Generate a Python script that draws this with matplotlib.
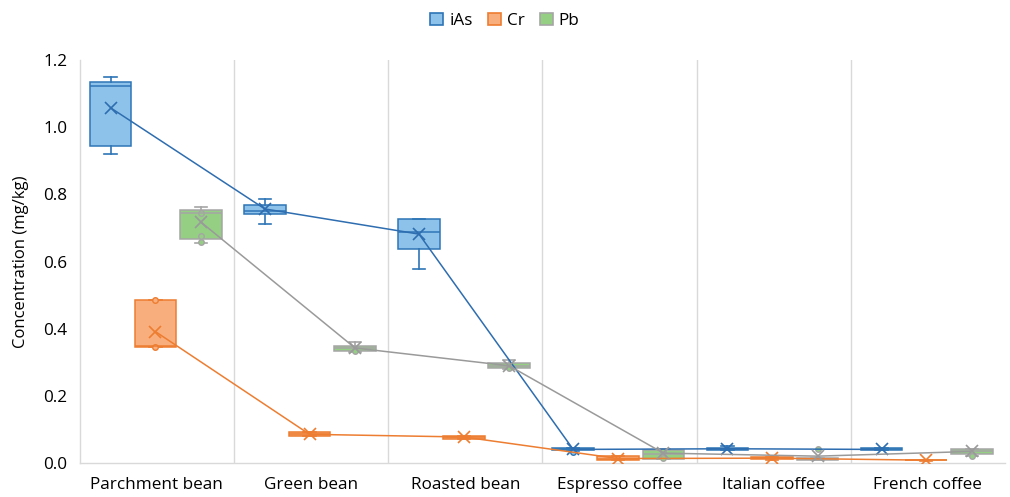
import matplotlib
matplotlib.use("Agg")
import matplotlib.pyplot as plt
from matplotlib.patches import Patch

plt.rcParams['font.family'] = ['Open Sans', 'DejaVu Sans']

categories = ["Parchment bean", "Green bean", "Roasted bean",
              "Espresso coffee", "Italian coffee", "French coffee"]
series = ["iAs", "Cr", "Pb"]

# box statistics per series: whisker low, Q1, median, Q3, whisker high, mean, inner points
iAs_whislo = [0.922, 0.713, 0.577, 0.036, 0.038, 0.038]
iAs_q1     = [0.944, 0.742, 0.639, 0.039, 0.040, 0.039]
iAs_med    = [1.122, 0.752, 0.689, 0.042, 0.042, 0.041]
iAs_q3     = [1.135, 0.768, 0.728, 0.045, 0.045, 0.044]
iAs_whishi = [1.150, 0.788, 0.728, 0.046, 0.050, 0.045]
iAs_mean   = [1.058, 0.757, 0.682, 0.041, 0.043, 0.041]
iAs_points = [[], [], [], [0.032], [], []]

Cr_whislo = [0.345, 0.082, 0.073, 0.010, 0.011, 0.008]
Cr_q1     = [0.345, 0.082, 0.073, 0.011, 0.012, 0.009]
Cr_med    = [0.348, 0.086, 0.077, 0.014, 0.015, 0.010]
Cr_q3     = [0.487, 0.092, 0.082, 0.020, 0.019, 0.011]
Cr_whishi = [0.487, 0.092, 0.082, 0.020, 0.019, 0.011]
Cr_mean   = [0.392, 0.086, 0.078, 0.014, 0.015, 0.009]
Cr_points = [[0.345, 0.487], [], [], [], [], []]

Pb_whislo = [0.655, 0.332, 0.280, 0.012, 0.010, 0.020]
Pb_q1     = [0.668, 0.333, 0.282, 0.014, 0.011, 0.028]
Pb_med    = [0.745, 0.343, 0.290, 0.027, 0.013, 0.035]
Pb_q3     = [0.755, 0.350, 0.297, 0.040, 0.015, 0.041]
Pb_whishi = [0.762, 0.360, 0.306, 0.043, 0.016, 0.043]
Pb_mean   = [0.718, 0.343, 0.290, 0.030, 0.021, 0.035]
Pb_points = [[0.744, 0.676, 0.658], [0.335], [0.283], [0.015, 0.035], [0.043], [0.020]]

data = {
    "iAs": (iAs_whislo, iAs_q1, iAs_med, iAs_q3, iAs_whishi, iAs_mean, iAs_points),
    "Cr": (Cr_whislo, Cr_q1, Cr_med, Cr_q3, Cr_whishi, Cr_mean, Cr_points),
    "Pb": (Pb_whislo, Pb_q1, Pb_med, Pb_q3, Pb_whishi, Pb_mean, Pb_points),
}

fills = {"iAs": "#8DC3EA", "Cr": "#F9AE7D", "Pb": "#94CF84"}
edges = {"iAs": "#2E75B6", "Cr": "#ED7D31", "Pb": "#A5A5A5"}
meancol = {"iAs": "#2E6DB0", "Cr": "#ED7D31", "Pb": "#9A9A9A"}
offsets = {"iAs": -0.30, "Cr": -0.01, "Pb": 0.285}

fig = plt.figure(figsize=(10.1, 4.97), dpi=100)
ax = fig.add_axes([0.079, 0.068, 0.916, 0.811])

for s in series:
    wl, q1, md, q3, wh, mn, pts = data[s]
    stats = []
    for i in range(len(categories)):
        stats.append(dict(whislo=wl[i], q1=q1[i], med=md[i], q3=q3[i],
                          whishi=wh[i], mean=mn[i], fliers=pts[i]))
    pos = [i + offsets[s] for i in range(len(categories))]
    ax.bxp(stats, positions=pos, widths=0.27, capwidths=0.08,
           patch_artist=True, showmeans=False, showfliers=True,
           boxprops=dict(facecolor=fills[s], edgecolor=edges[s], linewidth=1.1),
           medianprops=dict(color=edges[s], linewidth=1.1),
           whiskerprops=dict(color=edges[s], linewidth=1.2),
           capprops=dict(color=edges[s], linewidth=1.2),
           flierprops=dict(marker='o', markersize=4, markerfacecolor=fills[s],
                           markeredgecolor=edges[s], markeredgewidth=1.0),
           manage_ticks=False, zorder=3)
    ax.plot(pos, mn, color=meancol[s], linewidth=1.1, marker='x',
            markersize=8, markeredgewidth=1.2, zorder=4)

ax.set_xlim(-0.5, len(categories) - 0.5)
ax.set_ylim(0, 1.2)
ax.set_yticks([0, 0.2, 0.4, 0.6, 0.8, 1.0, 1.2])
ax.set_yticklabels(["0.0", "0.2", "0.4", "0.6", "0.8", "1.0", "1.2"])
ax.set_xticks(range(len(categories)))
ax.set_xticklabels(categories)
ax.tick_params(axis='both', length=0, labelsize=12.3, colors='#000000')
ax.tick_params(axis='y', pad=9)
ax.tick_params(axis='x', pad=10)
ax.set_ylabel("Concentration (mg/kg)", fontsize=12, labelpad=10)

for x in [i + 0.5 for i in range(len(categories) - 1)]:
    ax.axvline(x, color='#D9D9D9', linewidth=1.0, zorder=0)

for sp in ['top', 'right']:
    ax.spines[sp].set_visible(False)
for sp in ['left', 'bottom']:
    ax.spines[sp].set_color('#D9D9D9')
    ax.spines[sp].set_linewidth(1.0)

handles = [Patch(facecolor=fills[s], edgecolor=edges[s], linewidth=1.2, label=s) for s in series]
fig.legend(handles=handles, loc='center', bbox_to_anchor=(0.5, 0.958), ncol=3,
           frameon=False, handlelength=0.75, handleheight=0.75, columnspacing=0.9,
           handletextpad=0.35, fontsize=12.3)

fig.savefig("out.png", dpi=100)
